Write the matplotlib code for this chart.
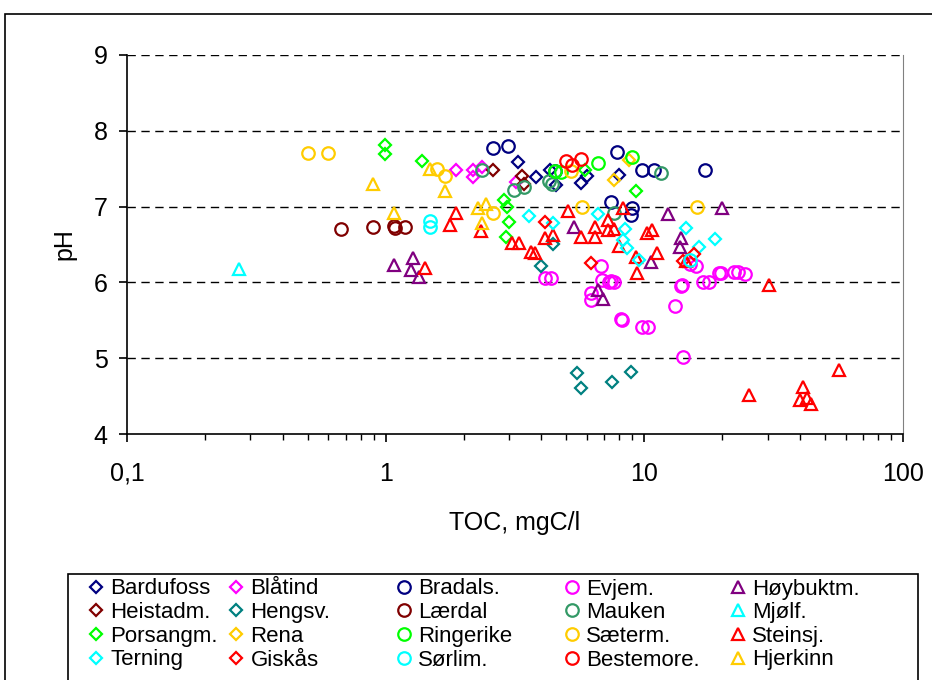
import matplotlib
matplotlib.use("Agg")
import matplotlib.pyplot as plt
from matplotlib.patches import Rectangle

plt.rcParams['font.family'] = ['Liberation Sans', 'DejaVu Sans']

# TOC (mgC/l) and pH per station
bardufoss_toc = [3.25, 3.8, 4.3, 4.55, 5.7, 6.0, 8.0]
bardufoss_ph = [7.59, 7.39, 7.48, 7.28, 7.31, 7.4, 7.42]
blatind_toc = [1.87, 2.17, 2.17, 2.35, 3.2]
blatind_ph = [7.48, 7.48, 7.39, 7.52, 7.32]
bradals_toc = [2.6, 2.97, 4.5, 7.86, 9.8, 10.9, 17.2, 7.44, 9.0, 8.9]
bradals_ph = [7.77, 7.8, 7.47, 7.72, 7.48, 7.48, 7.48, 7.06, 6.98, 6.89]
evjem_toc = [4.13, 4.36, 6.8, 6.87, 7.3, 7.6, 7.45, 6.2, 6.2, 8.15, 8.2, 9.8, 10.3,
             13.8, 14.0, 13.1, 14.1, 15.0, 15.9, 16.8, 17.8, 19.5, 19.8, 22.3, 23.0, 24.4]
evjem_ph = [6.06, 6.06, 6.22, 6.03, 6.0, 6.0, 6.02, 5.86, 5.77, 5.52, 5.5, 5.41, 5.41,
            5.95, 5.97, 5.69, 5.02, 6.24, 6.22, 6.0, 6.0, 6.12, 6.12, 6.14, 6.14, 6.11]
hoybuktm_toc = [1.08, 1.28, 1.25, 1.35, 5.35, 6.6, 6.9, 10.6, 12.3, 13.9, 13.7, 20.0]
hoybuktm_ph = [6.23, 6.32, 6.17, 6.07, 6.73, 5.9, 5.78, 6.27, 6.9, 6.59, 6.47, 6.98]
heistadm_toc = [2.6, 3.36, 3.42]
heistadm_ph = [7.48, 7.41, 7.3]
hengsv_toc = [3.98, 4.43, 5.5, 5.7, 7.5, 8.9]
hengsv_ph = [6.22, 6.5, 4.8, 4.61, 4.69, 4.82]
lardal_toc = [0.67, 0.89, 1.08, 1.09, 1.19]
lardal_ph = [6.7, 6.73, 6.74, 6.72, 6.73]
mauken_toc = [2.36, 3.13, 3.43, 4.28, 4.4, 7.65, 11.6]
mauken_ph = [7.48, 7.22, 7.26, 7.34, 7.3, 6.91, 7.44]
mjolf_toc = [0.27]
mjolf_ph = [6.18]
porsangm_toc = [0.99, 0.99, 1.38, 2.87, 2.94, 3.0, 2.92, 5.9, 9.3]
porsangm_ph = [7.81, 7.7, 7.6, 7.09, 6.99, 6.8, 6.6, 7.48, 7.2]
rena_toc = [8.75, 7.6]
rena_ph = [7.61, 7.35]
ringerike_toc = [4.5, 4.75, 6.6, 9.0]
ringerike_ph = [7.47, 7.45, 7.58, 7.66]
saeterm_toc = [0.5, 0.6, 1.58, 1.7, 2.6, 5.2, 5.75, 16.0]
saeterm_ph = [7.71, 7.71, 7.49, 7.41, 6.92, 7.47, 6.99, 6.99]
steinsj_toc = [1.42, 1.87, 1.78, 2.33, 3.08, 3.28, 3.65, 3.78, 4.13, 4.43,
               5.07, 5.7, 6.45, 6.45, 7.25, 7.25, 7.6, 8.3, 8.0, 9.3,
               9.4, 10.2, 10.7, 11.2, 14.5, 30.3, 25.3, 41.0, 40.0, 42.7, 44.0, 56.5]
steinsj_ph = [6.19, 6.92, 6.76, 6.68, 6.52, 6.52, 6.4, 6.39, 6.58, 6.63,
              6.94, 6.6, 6.73, 6.6, 6.82, 6.69, 6.71, 6.98, 6.48, 6.34,
              6.13, 6.65, 6.69, 6.39, 6.28, 5.97, 4.51, 4.62, 4.45, 4.48, 4.4, 4.84]
terning_toc = [3.58, 4.43, 6.6, 8.4, 8.3, 8.6, 9.5, 14.5, 16.3, 18.8]
terning_ph = [6.88, 6.78, 6.9, 6.7, 6.56, 6.45, 6.3, 6.72, 6.47, 6.57]
giskas_toc = [4.13, 6.2, 14.1, 15.5]
giskas_ph = [6.8, 6.25, 6.28, 6.38]
sorlim_toc = [1.49, 1.49, 15.0]
sorlim_ph = [6.81, 6.73, 6.3]
bestemore_toc = [4.97, 5.25, 5.7]
bestemore_ph = [7.6, 7.55, 7.63]
hjerkinn_toc = [0.89, 1.08, 1.48, 1.69, 2.27, 2.44, 2.36]
hjerkinn_ph = [7.3, 6.92, 7.5, 7.21, 6.98, 7.03, 6.79]

x_ticks = [0.1, 1, 10, 100]
x_tick_labels = ['0,1', '1', '10', '100']
y_ticks = [4, 5, 6, 7, 8, 9]

navy, magenta, purple = '#000080', '#FF00FF', '#800080'
darkred, teal, seagreen = '#800000', '#008080', '#339966'
cyan, lime, gold, red = '#00FFFF', '#00FF00', '#FFCC00', '#FF0000'

series = [
    ('Bardufoss', bardufoss_toc, bardufoss_ph, 'D', navy),
    ('Blåtind', blatind_toc, blatind_ph, 'D', magenta),
    ('Bradals.', bradals_toc, bradals_ph, 'o', navy),
    ('Evjem.', evjem_toc, evjem_ph, 'o', magenta),
    ('Høybuktm.', hoybuktm_toc, hoybuktm_ph, '^', purple),
    ('Heistadm.', heistadm_toc, heistadm_ph, 'D', darkred),
    ('Hengsv.', hengsv_toc, hengsv_ph, 'D', teal),
    ('Lærdal', lardal_toc, lardal_ph, 'o', darkred),
    ('Mauken', mauken_toc, mauken_ph, 'o', seagreen),
    ('Mjølf.', mjolf_toc, mjolf_ph, '^', cyan),
    ('Porsangm.', porsangm_toc, porsangm_ph, 'D', lime),
    ('Rena', rena_toc, rena_ph, 'D', gold),
    ('Ringerike', ringerike_toc, ringerike_ph, 'o', lime),
    ('Sæterm.', saeterm_toc, saeterm_ph, 'o', gold),
    ('Steinsj.', steinsj_toc, steinsj_ph, '^', red),
    ('Terning', terning_toc, terning_ph, 'D', cyan),
    ('Giskås', giskas_toc, giskas_ph, 'D', red),
    ('Sørlim.', sorlim_toc, sorlim_ph, 'o', cyan),
    ('Bestemore.', bestemore_toc, bestemore_ph, 'o', red),
    ('Hjerkinn', hjerkinn_toc, hjerkinn_ph, '^', gold),
]
sizes = {'D': 6.5, 'o': 9, '^': 9}

W, H = 932, 680
fig = plt.figure(figsize=(W / 100, H / 100), dpi=100)
fig.patch.set_facecolor('white')
# chart area border
fig.add_artist(Rectangle((5 / W, -0.1), 1.1, 1.1 - 14 / H, transform=fig.transFigure,
                         fill=False, edgecolor='black', linewidth=1.2))

ax = fig.add_axes([127 / W, 1 - 434 / H, 776 / W, 379 / H])

handles = []
for name, toc, ph, marker, color in series:
    h, = ax.plot(toc, ph, linestyle='none', marker=marker, markersize=sizes[marker],
                 markerfacecolor='none', markeredgecolor=color, markeredgewidth=1.6,
                 label=name, clip_on=False)
    handles.append(h)

ax.set_xscale('log')
ax.set_xlim(0.1, 100)
ax.set_ylim(4, 9)
ax.set_xticks(x_ticks)
ax.set_xticklabels(x_tick_labels)
ax.set_yticks(y_ticks)

for y in y_ticks[1:]:
    ax.axhline(y, color='black', linewidth=1, linestyle=(0, (6, 4)), zorder=0)

ax.spines['top'].set_visible(False)
ax.spines['right'].set_color('#808080')
ax.spines['left'].set_linewidth(1.2)
ax.spines['bottom'].set_linewidth(1.2)
ax.tick_params(axis='both', which='major', direction='out', length=6, width=1.2,
               labelsize=18)
ax.tick_params(axis='x', which='major', pad=14)
ax.tick_params(axis='x', which='minor', direction='out', length=4, width=1)
ax.tick_params(axis='y', which='major', pad=8)

ax.set_xlabel('TOC, mgC/l', fontsize=18, labelpad=18)
ax.set_ylabel('pH', fontsize=18, labelpad=12)

# legend: four rows, five fixed-width columns inside one frame
fig.add_artist(Rectangle((68 / W, -0.1), 850 / W, 0.1 + 1 - 574 / H,
                         transform=fig.transFigure, fill=False,
                         edgecolor='black', linewidth=1.2))
ncol = 5
legend_fs = 16
marker_x = [96, 236, 404, 572, 738]
half_handle = 0.4 * legend_fs * 100 / 72
for c in range(ncol):
    idx = list(range(c, len(series), ncol))
    fig.legend([handles[i] for i in idx], [series[i][0] for i in idx],
               loc='upper left',
               bbox_to_anchor=((marker_x[c] - half_handle) / W, 1 - 578.5 / H),
               fontsize=legend_fs, frameon=False, handlelength=0.8,
               handletextpad=0.25, labelspacing=0.12, borderpad=0,
               borderaxespad=0)

fig.savefig('out.png', dpi=100, facecolor='white')
